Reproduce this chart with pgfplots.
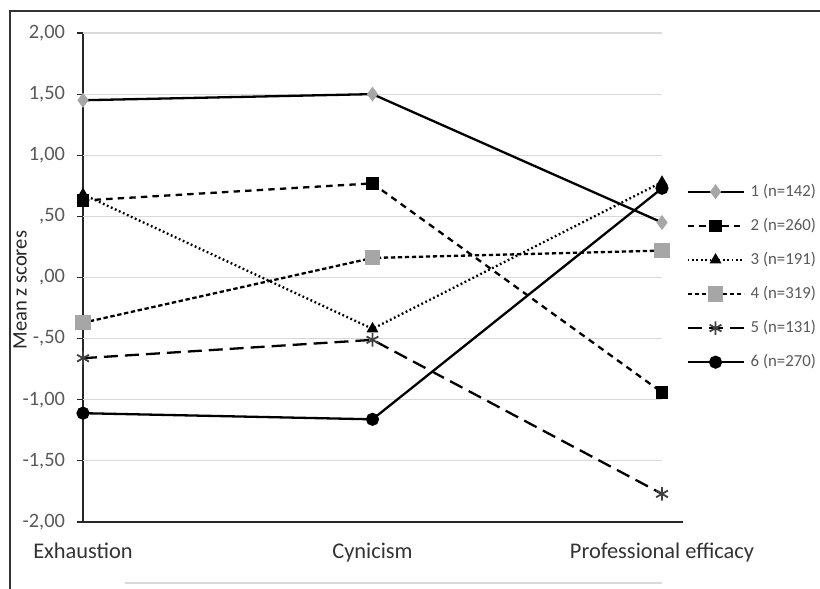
\documentclass[border=0pt]{standalone}
\usepackage{pgfplots}
\pgfplotsset{compat=1.18}
\usepackage{fontspec}
\setmainfont{Carlito}
\definecolor{tickgray}{HTML}{595959}
\definecolor{gridgray}{HTML}{D9D9D9}
\definecolor{markgray}{HTML}{A6A6A6}
\begin{document}
\begin{tikzpicture}[x=1pt,y=1pt]
% page = 820 x 589 px, 1 px = 0.5 pt
\useasboundingbox (0,0) rectangle (410,294.5);
\draw[black!80, line width=0.8pt] (5,0) -- (5,289) -- (410,289);
\draw[gridgray, line width=0.6pt] (62.5,3) -- (331,3);
\begin{axis}[
  at={(41.5pt,33.5pt)}, anchor=south west,
  scale only axis,
  width=300pt, height=244.5pt,
  xmin=0, xmax=2.0725,
  ymin=-2, ymax=2,
  axis x line=bottom, axis y line=left,
  axis line style={black!85, line width=0.8pt, -},
  xtick={0,1,2},
  xticklabels={Exhaustion,Cynicism,Professional efficacy},
  xticklabel style={font=\fontsize{11.2}{13}\selectfont, text=black!80, yshift=-4pt},
  x tick style={draw=none},
  ytick={-2,-1.5,-1,-0.5,0,0.5,1,1.5,2},
  yticklabels={{-2,00},{-1,50},{-1,00},{-,50},{,00},{,50},{1,00},{1,50},{2,00}},
  yticklabel style={font=\fontsize{10.2}{12}\selectfont, text=tickgray, xshift=-2.5pt},
  tick align=outside,
  major tick length=3pt,
  y tick style={black!85, line width=0.6pt},
  ylabel={Mean z scores},
  ylabel style={font=\fontsize{10.3}{12}\selectfont, text=black!85, at={(axis description cs:-0.105,0.474)}, anchor=center},
  clip=false,
  legend style={
    at={(axis description cs:1.005,0.70)}, anchor=north west,
    draw=none, fill=none,
    font=\fontsize{8.4}{10}\selectfont, text=tickgray,
    row sep=5.4pt,
    inner sep=0pt,
    nodes={inner xsep=3pt},
  },
  legend cell align=left,
  legend image code/.code={
    \draw[mark repeat=2, mark phase=2, #1] plot coordinates {(0pt,0pt) (14pt,0pt) (28pt,0pt)};
  },
  every axis plot/.append style={line width=1.15pt},
]
% light grid lines, drawn only across the plotted categories
\pgfplotsinvokeforeach{-1.5,-1,-0.5,0,0.5,1,1.5,2}{
  \draw[gridgray, line width=0.6pt] (axis cs:0,#1) -- (axis cs:2,#1);
}
\addplot[black, solid, mark=diamond*, mark size=2.8pt,
  mark options={fill=markgray, draw=markgray}]
  coordinates {(0,1.45) (1,1.50) (2,0.45)};
\addlegendentry{1 (n=142)}
\addplot[black, dash pattern=on 3.2pt off 2.6pt, mark=square*, mark size=2.5pt,
  mark options={solid, fill=black}]
  coordinates {(0,0.63) (1,0.77) (2,-0.94)};
\addlegendentry{2 (n=260)}
\addplot[black, dash pattern=on 0.9pt off 1.3pt, mark=triangle*, mark size=2.3pt,
  mark options={solid, fill=black}]
  coordinates {(0,0.68) (1,-0.42) (2,0.78)};
\addlegendentry{3 (n=191)}
\addplot[black, dash pattern=on 2.2pt off 1.3pt, mark=square*, mark size=3.2pt,
  mark options={solid, fill=markgray, draw=markgray}]
  coordinates {(0,-0.37) (1,0.16) (2,0.22)};
\addlegendentry{4 (n=319)}
\addplot[black, dash pattern=on 7pt off 3.5pt, mark=asterisk, mark size=3.4pt,
  mark options={solid, draw=black!75, line width=0.9pt}]
  coordinates {(0,-0.66) (1,-0.51) (2,-1.77)};
\addlegendentry{5 (n=131)}
\addplot[black, solid, mark=*, mark size=2.7pt,
  mark options={fill=black}]
  coordinates {(0,-1.11) (1,-1.16) (2,0.73)};
\addlegendentry{6 (n=270)}
\end{axis}
\end{tikzpicture}
\end{document}
